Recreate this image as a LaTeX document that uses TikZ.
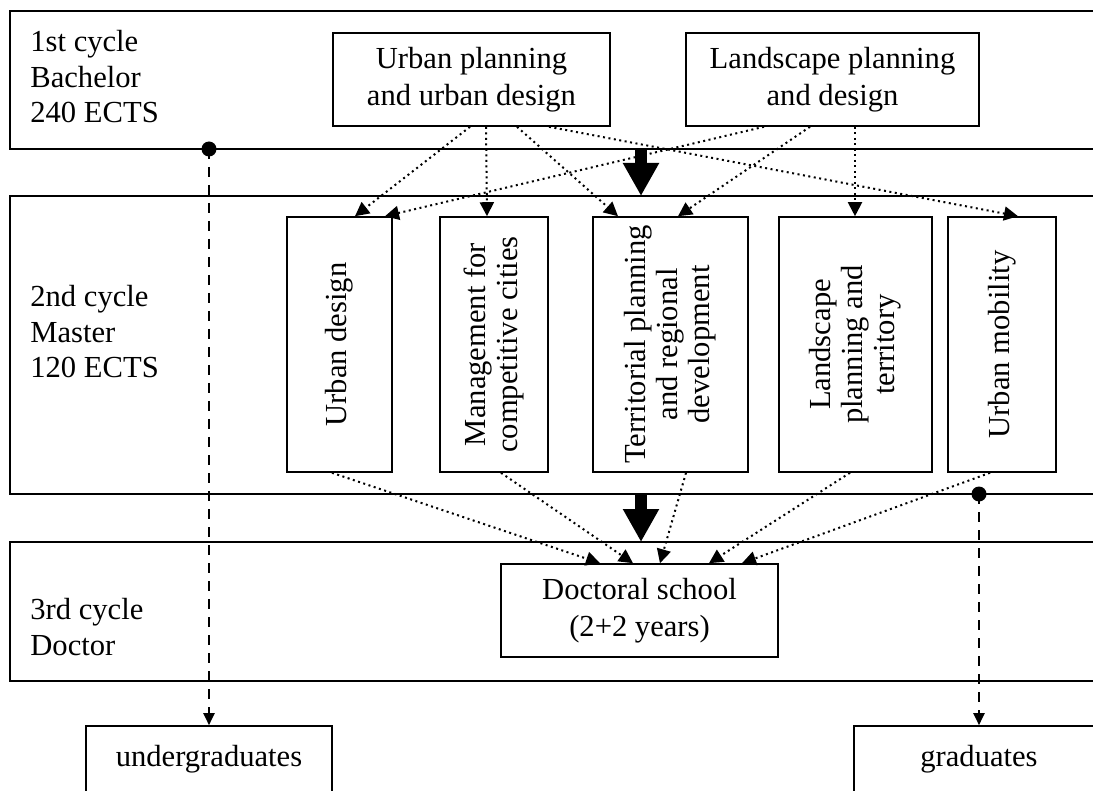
\documentclass[tikz,border=0pt]{standalone}
\usepackage{fontspec}
\setmainfont{Liberation Serif}
\usetikzlibrary{arrows.meta}

\begin{document}
\begin{tikzpicture}[x=0.5pt, y=-0.5pt,
    band/.style={line width=1pt},
    box/.style={draw, line width=0.8pt, align=center, inner sep=0pt,
        font=\fontsize{15.3}{18.5}\selectfont},
    vbox/.style={box, rotate=90, minimum width=127.5pt,
        font=\fontsize{15.3}{16}\selectfont},
    cycle/.style={align=left, anchor=west, inner sep=0pt,
        font=\fontsize{15.3}{17.75}\selectfont},
    flow/.style={line width=1pt, dash pattern=on 1pt off 1.75pt,
        -{Triangle[length=7pt, width=7pt]}},
    exit/.style={line width=1pt, dash pattern=on 5pt off 4pt,
        -{Triangle[length=6pt, width=5.5pt]}},
    bigarrow/.style={line width=6pt, -{Triangle[length=16.5pt, width=17pt]}}]

    \useasboundingbox (0,0) rectangle (1093,791);
    \clip (0,0) rectangle (1093,791);

    % 1st cycle
    \draw[band] (1100,11) -| (10,149) -- (1100,149);
    \node[cycle] (c1) at (30,77) {1st cycle\\Bachelor\\240 ECTS};
    \node[box, minimum width=138.5pt, minimum height=46.5pt] (up) at (471.5,79.5)
        {Urban planning\\and urban design};
    \node[box, minimum width=146.5pt, minimum height=46.5pt] (lp) at (832.5,79.5)
        {Landscape planning\\and design};

    % 2nd cycle
    \draw[band] (1100,196) -| (10,494) -- (1100,494);
    \node[cycle] (c2) at (30,332) {2nd cycle\\Master\\120 ECTS};
    \node[vbox, minimum height=52.5pt] (ud) at (339.5,344.5) {Urban design};
    \node[vbox, minimum height=54pt] (mg) at (494,344.5)
        {Management for\\competitive cities};
    \node[vbox, minimum height=77.5pt] (tr) at (670.5,344.5)
        {Territorial planning\\and regional\\development};
    \node[vbox, minimum height=76.5pt] (lt) at (855.5,344.5)
        {Landscape\\planning and\\territory};
    \node[vbox, minimum height=54pt] (um) at (1002,344.5) {Urban mobility};

    % 3rd cycle
    \draw[band] (1100,542) -| (10,681) -- (1100,681);
    \node[cycle] (c3) at (30,627) {3rd cycle\\Doctor};
    \node[box, minimum width=138.5pt, minimum height=46.5pt] (doc) at (639.5,610.5)
        {Doctoral school\\(2+2 years)};

    % outputs
    \node[box, minimum width=123pt, minimum height=33pt] (ug) at (209,759) {undergraduates};
    \node[box, minimum width=125pt, minimum height=33pt] (gr) at (979,759) {graduates};

    % bachelor -> master
    \draw[bigarrow] (641,149) -- (641,196);
    \draw[flow] (470,0 |- up.south) -- (355,0 |- ud.east);
    \draw[flow] (486,0 |- up.south) -- (487,0 |- mg.east);
    \draw[flow] (517,0 |- up.south) -- (618,0 |- tr.east);
    \draw[flow] (549,0 |- up.south) -- (1018,0 |- um.east);
    \draw[flow] (764,0 |- lp.south) -- (385,0 |- ud.east);
    \draw[flow] (810,0 |- lp.south) -- (678,0 |- tr.east);
    \draw[flow] (855,0 |- lp.south) -- (855,0 |- lt.east);

    % master -> doctor
    \draw[bigarrow] (641,494) -- (641,542);
    \draw[flow] (332,0 |- ud.west) -- (600,0 |- doc.north);
    \draw[flow] (501,0 |- mg.west) -- (633,0 |- doc.north);
    \draw[flow] (686,0 |- tr.west) -- (660,0 |- doc.north);
    \draw[flow] (850,0 |- lt.west) -- (709,0 |- doc.north);
    \draw[flow] (990,0 |- um.west) -- (742,0 |- doc.north);

    % leaving
    \coordinate (ug-dot) at (209,149);
    \coordinate (gr-dot) at (979,494);
    \fill (ug-dot) circle (3.75pt);
    \fill (gr-dot) circle (3.75pt);
    \draw[exit] (ug-dot) -- (ug);
    \draw[exit] (gr-dot) -- (gr);

\end{tikzpicture}
\end{document}
